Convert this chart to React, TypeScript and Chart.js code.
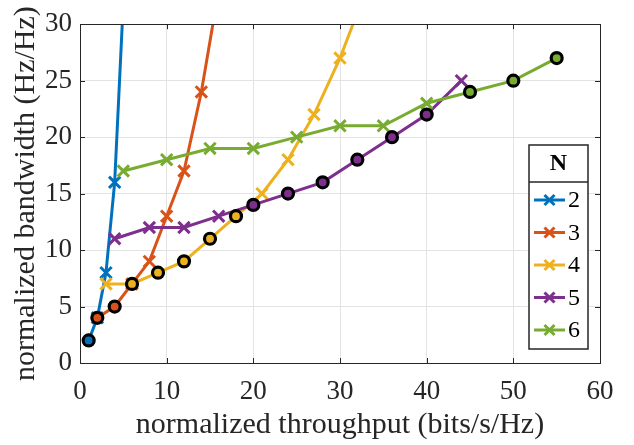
import React, { useEffect, useRef } from 'react';
import { Chart, registerables } from 'chart.js';

Chart.register(...registerables);

// ---- data ----
const seriesLabels = ['2', '3', '4', '5', '6'];
const seriesColors = ['#0072BD', '#D95319', '#EDB120', '#7E2F8E', '#77AC30'];

const throughputN2 = [1, 2, 3, 4, 5];
const bandwidthN2 = [2, 4, 8, 16, 32];
const circledN2 = [1];

const throughputN3 = [2, 4, 6, 8, 10, 12, 14, 16];
const bandwidthN3 = [4, 5, 7, 9, 13, 17, 24, 33];
const circledN3 = [2, 4];

const throughputN4 = [3, 6, 9, 12, 15, 18, 21, 24, 27, 30, 33];
const bandwidthN4 = [7, 7, 8, 9, 11, 13, 15, 18, 22, 27, 33];
const circledN4 = [6, 9, 12, 15, 18];

const throughputN5 = [4, 8, 12, 16, 20, 24, 28, 32, 36, 40, 44];
const bandwidthN5 = [11, 12, 12, 13, 14, 15, 16, 18, 20, 22, 25];
const circledN5 = [20, 24, 28, 32, 36, 40];

const throughputN6 = [5, 10, 15, 20, 25, 30, 35, 40, 45, 50, 55];
const bandwidthN6 = [17, 18, 19, 19, 20, 21, 21, 23, 24, 25, 27];
const circledN6 = [45, 50, 55];

const xTickValues = [0, 10, 20, 30, 40, 50, 60];
const yTickValues = [0, 5, 10, 15, 20, 25, 30];

const xTitle = 'normalized throughput (bits/s/Hz)';
const yTitle = 'normalized bandwidth (Hz/Hz)';
const legendTitle = 'N';

const FONT = "'Liberation Serif', 'Times New Roman', serif";
const AXIS_COLOR = '#262626';

const allX = [throughputN2, throughputN3, throughputN4, throughputN5, throughputN6];
const allY = [bandwidthN2, bandwidthN3, bandwidthN4, bandwidthN5, bandwidthN6];
const allCircled = [circledN2, circledN3, circledN4, circledN5, circledN6];

function drawCross(ctx: CanvasRenderingContext2D, x: number, y: number, h: number) {
  ctx.beginPath();
  ctx.moveTo(x - h, y - h);
  ctx.lineTo(x + h, y + h);
  ctx.moveTo(x - h, y + h);
  ctx.lineTo(x + h, y - h);
  ctx.stroke();
}

const framePlugin = {
  id: 'matlabFrame',
  afterDatasetsDraw(chart: any) {
    const { ctx, chartArea } = chart;
    const { left, right, top, bottom } = chartArea;
    const xs = chart.scales.x;
    const ys = chart.scales.y;
    ctx.save();
    ctx.strokeStyle = AXIS_COLOR;
    ctx.lineWidth = 1;
    ctx.strokeRect(Math.round(left) + 0.5, Math.round(top) + 0.5, Math.round(right - left), Math.round(bottom - top));
    const tl = 5;
    ctx.beginPath();
    xTickValues.forEach((v) => {
      const px = Math.round(xs.getPixelForValue(v)) + 0.5;
      ctx.moveTo(px, bottom);
      ctx.lineTo(px, bottom - tl);
      ctx.moveTo(px, top);
      ctx.lineTo(px, top + tl);
    });
    yTickValues.forEach((v) => {
      const py = Math.round(ys.getPixelForValue(v)) + 0.5;
      ctx.moveTo(left, py);
      ctx.lineTo(left + tl, py);
      ctx.moveTo(right, py);
      ctx.lineTo(right - tl, py);
    });
    ctx.stroke();
    ctx.restore();
  },
};

const legendPlugin = {
  id: 'boxLegend',
  afterDraw(chart: any) {
    const { ctx } = chart;
    const bx = 529, by = 145, bw = 59, bh = 204;
    const sepY = 182;
    ctx.save();
    ctx.fillStyle = '#ffffff';
    ctx.fillRect(bx, by, bw, bh);
    ctx.strokeStyle = AXIS_COLOR;
    ctx.lineWidth = 1.5;
    ctx.strokeRect(bx, by, bw, bh);
    ctx.beginPath();
    ctx.moveTo(bx, sepY);
    ctx.lineTo(bx + bw, sepY);
    ctx.stroke();
    ctx.fillStyle = '#000000';
    ctx.font = `bold 24px ${FONT}`;
    ctx.textAlign = 'center';
    ctx.textBaseline = 'middle';
    ctx.fillText(legendTitle, bx + bw / 2, 164);
    ctx.font = `24px ${FONT}`;
    ctx.textAlign = 'left';
    const ds = chart.data.datasets.slice(0, seriesLabels.length);
    ds.forEach((d: any, i: number) => {
      const cy = 200 + i * 32.5;
      ctx.strokeStyle = d.borderColor;
      ctx.lineWidth = 3;
      ctx.beginPath();
      ctx.moveTo(534, cy);
      ctx.lineTo(565, cy);
      ctx.stroke();
      drawCross(ctx, 549.5, cy, 5);
      ctx.fillStyle = '#000000';
      ctx.fillText(d.label, 568, cy + 1);
    });
    ctx.restore();
  },
};

export default function App() {
  const ref = useRef<HTMLCanvasElement | null>(null);

  useEffect(() => {
    if (!ref.current) return;
    const lineDatasets = seriesLabels.map((label, i) => {
      const xs = allX[i];
      const ys = allY[i];
      const circ = allCircled[i];
      return {
        label,
        data: xs.map((x, k) => ({ x, y: ys[k] })),
        showLine: true,
        borderColor: seriesColors[i],
        backgroundColor: seriesColors[i],
        borderWidth: 3,
        pointStyle: 'crossRot',
        pointRadius: xs.map((x) => (circ.includes(x) ? 0 : 8)),
        pointHoverRadius: 8,
        pointBorderWidth: 3,
        pointBorderColor: seriesColors[i],
        order: 10 - i,
      };
    });
    const circlePoints: { x: number; y: number }[] = [];
    const circleColors: string[] = [];
    seriesLabels.forEach((_, i) => {
      allCircled[i].forEach((cx) => {
        const k = allX[i].indexOf(cx);
        circlePoints.push({ x: cx, y: allY[i][k] });
        circleColors.push(seriesColors[i]);
      });
    });
    const circleDataset = {
      label: 'circled',
      data: circlePoints,
      showLine: false,
      pointStyle: 'circle',
      pointRadius: 5.5,
      pointHoverRadius: 5.5,
      pointBorderWidth: 3.2,
      pointBorderColor: '#000000',
      pointBackgroundColor: circleColors,
      borderColor: '#000000',
      backgroundColor: circleColors,
      order: 0,
    };

    const chart = new Chart(ref.current, {
      type: 'scatter',
      data: { datasets: [...lineDatasets, circleDataset] as any },
      options: {
        animation: false,
        responsive: false,
        devicePixelRatio: 1,
        layout: { padding: { top: 16, right: 34, left: 0, bottom: 0 } },
        plugins: {
          legend: { display: false },
          tooltip: { enabled: false },
        },
        scales: {
          x: {
            type: 'linear',
            min: 0,
            max: 60,
            afterBuildTicks: (s: any) => {
              s.ticks = xTickValues.map((v) => ({ value: v }));
            },
            afterFit: (s: any) => {
              s.height = 82;
            },
            grid: { color: '#e3e3e3', lineWidth: 1, drawTicks: false },
            border: { display: false },
            ticks: {
              autoSkip: false,
              maxRotation: 0,
              padding: 13,
              color: AXIS_COLOR,
              font: { family: FONT, size: 27 },
            },
            title: {
              display: true,
              text: xTitle,
              color: AXIS_COLOR,
              font: { family: FONT, size: 30 },
              padding: { top: 0, bottom: 2 },
            },
          },
          y: {
            type: 'linear',
            min: 0,
            max: 30,
            afterBuildTicks: (s: any) => {
              s.ticks = yTickValues.map((v) => ({ value: v }));
            },
            afterFit: (s: any) => {
              s.width = 80;
            },
            grid: { color: '#e3e3e3', lineWidth: 1, drawTicks: false },
            border: { display: false },
            ticks: {
              autoSkip: false,
              padding: 8,
              color: AXIS_COLOR,
              font: { family: FONT, size: 27 },
            },
            title: {
              display: true,
              text: yTitle,
              color: AXIS_COLOR,
              font: { family: FONT, size: 30 },
              padding: { top: 8, bottom: 0 },
            },
          },
        },
      },
      plugins: [framePlugin, legendPlugin],
    });
    return () => chart.destroy();
  }, []);

  return (
    <div style={{ position: 'absolute', left: 0, top: 0, width: 634, height: 445, background: '#ffffff' }}>
      <canvas ref={ref} width={634} height={445} style={{ width: 634, height: 445, display: 'block' }} />
    </div>
  );
}
